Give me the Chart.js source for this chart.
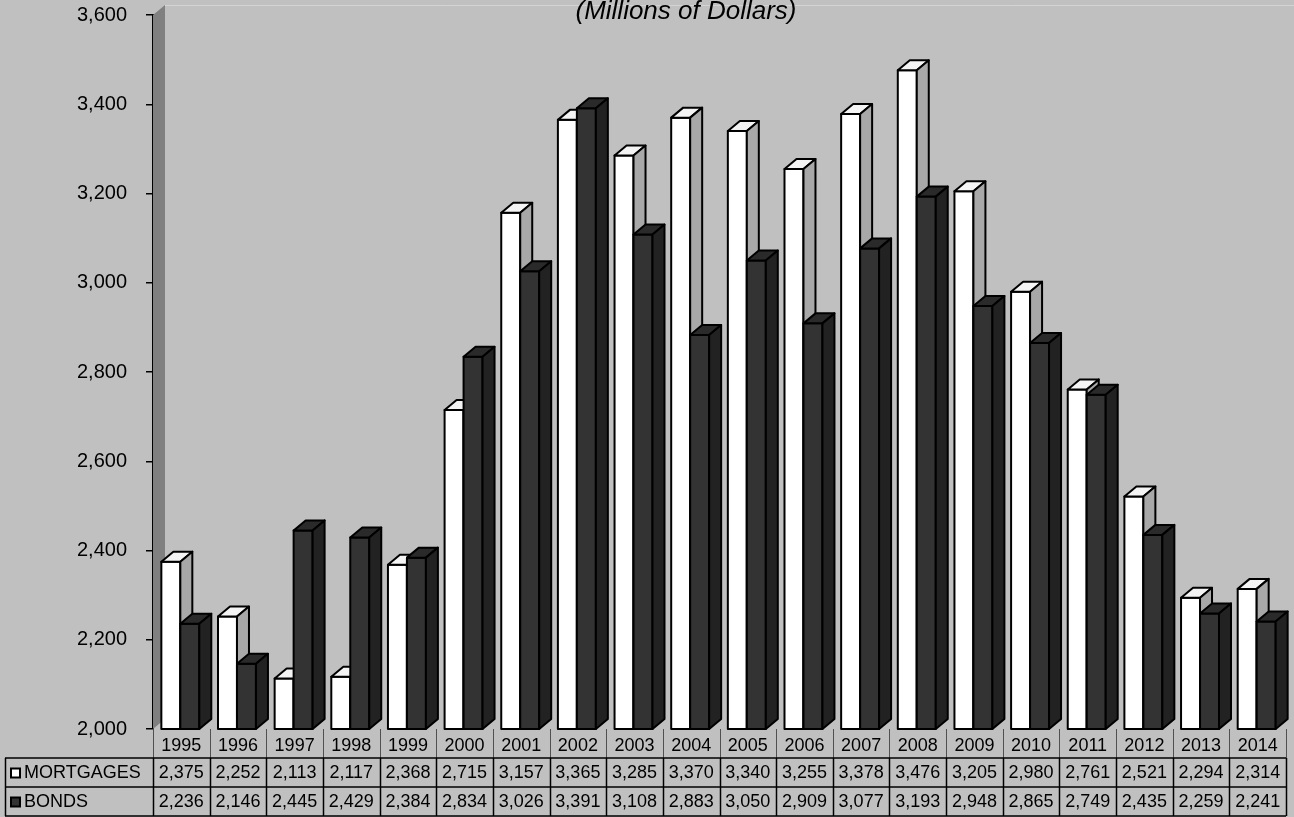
<!DOCTYPE html>
<html>
<head>
<meta charset="utf-8">
<script src="https://cdn.jsdelivr.net/npm/chart.js@4"></script>
<style>
    html, body { margin: 0; padding: 0; background: #c0c0c0; }
    #wrap { width: 1294px; height: 817px; }
</style>
</head>
<body>
<div id="wrap"><canvas id="chart" width="1294" height="817"></canvas></div>
<script>
const years = ['1995', '1996', '1997', '1998', '1999', '2000', '2001', '2002', '2003', '2004',
    '2005', '2006', '2007', '2008', '2009', '2010', '2011', '2012', '2013', '2014'];
const mortgages = [2375, 2252, 2113, 2117, 2368, 2715, 3157, 3365, 3285, 3370,
    3340, 3255, 3378, 3476, 3205, 2980, 2761, 2521, 2294, 2314];
const bonds = [2236, 2146, 2445, 2429, 2384, 2834, 3026, 3391, 3108, 2883,
    3050, 2909, 3077, 3193, 2948, 2865, 2749, 2435, 2259, 2241];
const seriesNames = ['MORTGAGES', 'BONDS'];
const yTicks = { min: 2000, max: 3600, step: 200 };
const titleText = '(Millions of Dollars)';

const FONT = "'Liberation Sans', Arial, sans-serif";
const DX = 12, DY = 10;   // 3d depth
const faces = [
    { front: '#ffffff', top: '#f4f4f4', side: '#a8a8a8' },
    { front: '#333333', top: '#2a2a2a', side: '#222222' },
];

function fmt(v) {
    return v.toLocaleString('en-US');
}

function poly(ctx, pts, fill) {
    ctx.beginPath();
    ctx.moveTo(pts[0][0], pts[0][1]);
    for (let i = 1; i < pts.length; i++) ctx.lineTo(pts[i][0], pts[i][1]);
    ctx.closePath();
    ctx.fillStyle = fill;
    ctx.fill();
    ctx.stroke();
}

// draws the wall, the bars in 3d, and the title
const bars3d = {
    id: 'bars3d',
    beforeDatasetsDraw(chart) {
        const ctx = chart.ctx;
        const area = chart.chartArea;
        ctx.save();

        // left wall
        ctx.fillStyle = '#808080';
        ctx.beginPath();
        ctx.moveTo(area.left, area.top);
        ctx.lineTo(area.left + DX, area.top - DY);
        ctx.lineTo(area.left + DX, area.bottom - DY);
        ctx.lineTo(area.left, area.bottom);
        ctx.closePath();
        ctx.fill();
        ctx.strokeStyle = '#d4d4d4';
        ctx.lineWidth = 1;
        ctx.beginPath();
        ctx.moveTo(area.left + DX, area.top - DY + 0.5);
        ctx.lineTo(chart.width, area.top - DY + 0.5);
        ctx.stroke();

        ctx.fillStyle = '#000';
        ctx.font = 'italic 26px ' + FONT;
        ctx.textAlign = 'center';
        ctx.textBaseline = 'alphabetic';
        ctx.fillText(titleText, 686, 19);

        ctx.strokeStyle = '#000';
        ctx.lineWidth = 2;
        ctx.lineJoin = 'round';
        const metas = chart.data.datasets.map((d, i) => chart.getDatasetMeta(i));
        for (let i = 0; i < years.length; i++) {
            metas.forEach(function (meta, s) {
                const el = meta.data[i];
                const l = el.x - el.width / 2 - 1, r = el.x + el.width / 2 - 1;
                const t = el.y, b = Math.min(el.base, area.bottom);
                const f = faces[s];
                poly(ctx, [[l, b], [l, t], [r, t], [r, b]], f.front);
                poly(ctx, [[l, t], [l + DX, t - DY], [r + DX, t - DY], [r, t]], f.top);
                poly(ctx, [[r, t], [r + DX, t - DY], [r + DX, b - DY], [r, b]], f.side);
            });
        }
        ctx.restore();
        return false;
    },
};

// data table under the plot
const dataTable = {
    id: 'dataTable',
    afterDraw(chart) {
        const ctx = chart.ctx;
        const area = chart.chartArea;
        const x = chart.scales.x;
        const colW = (area.right - area.left) / years.length;
        const rowH = 29;
        const top = area.bottom + rowH;
        const tableLeft = 5;
        ctx.save();

        // separators in the year row
        ctx.strokeStyle = '#505050';
        ctx.lineWidth = 1;
        for (let i = 0; i <= years.length; i++) {
            const px = Math.round(area.left + i * colW) + 0.5;
            ctx.beginPath();
            ctx.moveTo(px, area.bottom);
            ctx.lineTo(px, top);
            ctx.stroke();
        }

        ctx.strokeStyle = '#000';
        ctx.lineWidth = 1.5;
        for (let r = 0; r <= 2; r++) {
            ctx.beginPath();
            ctx.moveTo(tableLeft, top + r * rowH);
            ctx.lineTo(area.right, top + r * rowH);
            ctx.stroke();
        }
        const vx = [tableLeft, area.left];
        for (let i = 1; i <= years.length; i++) vx.push(area.left + i * colW);
        vx.forEach(function (px) {
            ctx.beginPath();
            ctx.moveTo(Math.round(px) + 0.5, top);
            ctx.lineTo(Math.round(px) + 0.5, top + rowH * 2);
            ctx.stroke();
        });

        ctx.font = '18px ' + FONT;
        ctx.textBaseline = 'middle';
        [mortgages, bonds].forEach(function (vals, r) {
            const cy = top + r * rowH + rowH / 2 + 1;
            // legend key
            ctx.fillStyle = faces[r].front;
            ctx.lineWidth = 2;
            ctx.fillRect(11, cy - 5, 9, 9);
            ctx.strokeRect(11, cy - 5, 9, 9);
            ctx.fillStyle = '#000';
            ctx.textAlign = 'left';
            ctx.fillText(seriesNames[r], 24, cy);
            ctx.textAlign = 'center';
            vals.forEach(function (v, i) {
                ctx.fillText(fmt(v), x.getPixelForValue(i), cy);
            });
        });
        ctx.restore();
    },
};

new Chart(document.getElementById('chart'), {
    type: 'bar',
    data: {
        labels: years,
        datasets: [
            { label: seriesNames[0], data: mortgages, backgroundColor: faces[0].front },
            { label: seriesNames[1], data: bonds, backgroundColor: faces[1].front },
        ],
    },
    options: {
        responsive: false,
        animation: false,
        events: [],
        categoryPercentage: 0.67,
        barPercentage: 1.0,
        layout: { padding: { top: 15, right: 8, left: 0, bottom: 0 } },
        plugins: {
            legend: { display: false },
            title: { display: false },
            tooltip: { enabled: false },
        },
        scales: {
            x: {
                afterFit: function (scale) { scale.height = 88; },
                grid: { display: false, drawTicks: false },
                border: { display: false },
                ticks: {
                    color: '#000',
                    font: { family: FONT, size: 18 },
                    padding: 6,
                    maxRotation: 0,
                    autoSkip: false,
                },
            },
            y: {
                min: yTicks.min,
                max: yTicks.max,
                afterFit: function (scale) {
                    scale.width = 153;
                    scale.paddingTop = 12;
                    scale.paddingBottom = 12;
                },
                grid: { drawOnChartArea: false, drawTicks: true, tickLength: 7, color: '#000', lineWidth: 1.5 },
                border: { display: true, color: '#000', width: 2 },
                ticks: {
                    stepSize: yTicks.step,
                    color: '#000',
                    padding: 19,
                    font: { family: FONT, size: 20 },
                    callback: function (v) { return fmt(v); },
                },
            },
        },
    },
    plugins: [bars3d, dataTable],
});
</script>
</body>
</html>
